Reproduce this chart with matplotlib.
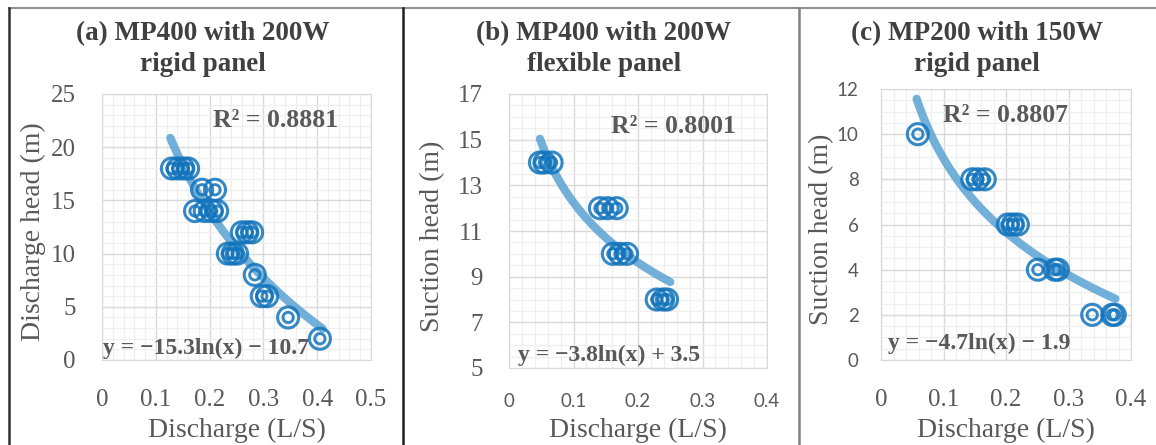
import numpy as np
import matplotlib
matplotlib.use("Agg")
import matplotlib.pyplot as plt
from matplotlib.ticker import MultipleLocator
from matplotlib.lines import Line2D

# ---- data ----
# (a) MP400 with 200W rigid panel
a_x = [0.130, 0.141, 0.151, 0.160, 0.186, 0.210, 0.173, 0.191, 0.204, 0.214,
       0.260, 0.270, 0.279, 0.234, 0.243, 0.251, 0.284, 0.297, 0.307, 0.346, 0.405]
a_y = [18, 18, 18, 18, 16, 16, 14, 14, 14, 14,
       12, 12, 12, 10, 10, 10, 8, 6, 6, 4, 2]
# (b) MP400 with 200W flexible panel
b_x = [0.048, 0.055, 0.066, 0.141, 0.153, 0.167, 0.161, 0.172, 0.183, 0.229, 0.239, 0.245]
b_y = [14, 14, 14, 12, 12, 12, 10, 10, 10, 8, 8, 8]
# (c) MP200 with 150W rigid panel
c_x = [0.059, 0.146, 0.155, 0.166, 0.203, 0.211, 0.219, 0.251, 0.278, 0.283,
       0.338, 0.370, 0.374]
c_y = [10, 8, 8, 8, 6, 6, 6, 4, 4, 4, 2, 2, 2]

# log trendlines y = k*ln(x) + b as printed on the chart, with x range
a_fit = (-15.3, -10.7, 0.127, 0.41)
b_fit = (-3.8, 3.5, 0.048, 0.25)
c_fit = (-4.7, -1.9, 0.057, 0.375)

titles = ["(a) MP400 with 200W\nrigid panel",
          "(b) MP400 with 200W\nflexible panel",
          "(c) MP200 with 150W\nrigid panel"]
ylabels = ["Discharge head (m)", "Suction head (m)", "Suction head (m)"]
r2_text = ["R² = 0.8881", "R² = 0.8001", "R² = 0.8807"]
eq_text = ["y = −15.3ln(x) − 10.7", "y = −3.8ln(x) + 3.5", "y = −4.7ln(x) − 1.9"]

W, H = 1156, 445
fig = plt.figure(figsize=(W / 100, H / 100), dpi=100)

SERIF = "Liberation Serif"
SANS = "Lato"
GRAY = "#595959"
DARK = "#404040"
MARK = "#1274BC"
TREND = "#5BA3D3"

# pixel boxes: left, right, top, bottom
boxes = [(102, 371, 94, 360), (509, 767, 94, 368), (881, 1131, 89, 360)]
limits = [((0, 0.5), (0, 25), 5, 1), ((0, 0.4), (5, 17), 2, 0.5), ((0, 0.4), (0, 12), 2, 0.5)]
xtick_font = [SERIF, SANS, SERIF]
ytick_font = [SERIF, SERIF, SANS]
title_cx = [203, 604, 977]
ylab_x = [33, 433, 822]
r2_pos = [(0.413, 0.90), (0.395, 0.88), (0.248, 0.904)]
eq_pos = [(0.004, 0.045), (0.035, 0.047), (0.028, 0.063)]

xs = [a_x, b_x, c_x]
ys = [a_y, b_y, c_y]
fits = [a_fit, b_fit, c_fit]

for i in range(3):
    l, r, t, b = boxes[i]
    ax = fig.add_axes([l / W, (H - b) / H, (r - l) / W, (b - t) / H])
    (x0, x1), (y0, y1), ymaj, ymin = limits[i]
    xt = np.arange(0, x1 + 0.05, 0.1)
    yt = np.arange(y0, y1 + ymaj / 2, ymaj)
    ax.set_xticks(xt)
    ax.set_yticks(yt)
    ax.set_xticklabels(["0" if v == 0 else f"{v:.1f}" for v in xt], family=xtick_font[i])
    ax.set_yticklabels([f"{v:g}" for v in yt], family=ytick_font[i])
    ax.xaxis.set_minor_locator(MultipleLocator(0.02))
    ax.yaxis.set_minor_locator(MultipleLocator(ymin))
    ax.set_xlim(x0, x1)
    ax.set_ylim(y0, y1)
    ax.grid(which="major", color="#D9D9D9", lw=1.0)
    ax.grid(which="minor", color="#EFEFEF", lw=0.9)
    ax.set_axisbelow(True)
    for s in ax.spines.values():
        s.set_color("#D9D9D9")
    ax.tick_params(which="both", length=0)
    serif_x = xtick_font[i] == SERIF
    serif_y = ytick_font[i] == SERIF
    ax.tick_params(axis="x", pad=21 if serif_x else 18, labelsize=18 if serif_x else 13.5,
                   labelcolor=GRAY)
    ax.tick_params(axis="y", pad=19 if serif_y else 16, labelsize=18 if serif_y else 13.5,
                   labelcolor=GRAY)

    k, c0, fx0, fx1 = fits[i]
    fx = np.linspace(fx0, fx1, 100)
    ax.plot(fx, k * np.log(fx) + c0, color=TREND, lw=6, alpha=0.85,
            solid_capstyle="round", zorder=2)
    ax.scatter(xs[i], ys[i], s=230, facecolors="none", edgecolors=MARK,
               linewidths=2.2, alpha=0.85, zorder=3)
    ax.scatter(xs[i], ys[i], s=55, facecolors="none", edgecolors=MARK,
               linewidths=2.1, alpha=0.85, zorder=3)

    ax.text(*r2_pos[i], r2_text[i], transform=ax.transAxes, family=SERIF,
            fontsize=18.5, fontweight="bold", color=GRAY, va="center", ha="left")
    ax.text(*eq_pos[i], eq_text[i], transform=ax.transAxes, family=SERIF,
            fontsize=17, fontweight="bold", color=GRAY, va="center", ha="left")

    fig.text(title_cx[i] / W, 1 - 49 / H, titles[i], family=SERIF, fontsize=19.5,
             fontweight="bold", color=DARK, ha="center", va="center",
             linespacing=1.35)
    fig.text(ylab_x[i] / W, 1 - ((t + b) / 2 + 5) / H, ylabels[i], family=SERIF,
             fontsize=20, color=GRAY, rotation=90, ha="center", va="center")
    fig.text((l + r) / 2 / W, 1 - 430 / H, "Discharge (L/S)", family=SERIF,
             fontsize=20, color=GRAY, ha="center", va="center")

# frame lines around and between the panels
def vline(x, color):
    fig.add_artist(Line2D([x / W, x / W], [0, 1 - 8 / H], color=color, lw=1.8))

fig.add_artist(Line2D([9 / W, 1], [1 - 8 / H, 1 - 8 / H], color="#909090", lw=1.5))
vline(9, "#303030")
vline(403, "#202020")
vline(799, "#808080")

fig.savefig("out.png", dpi=100)
